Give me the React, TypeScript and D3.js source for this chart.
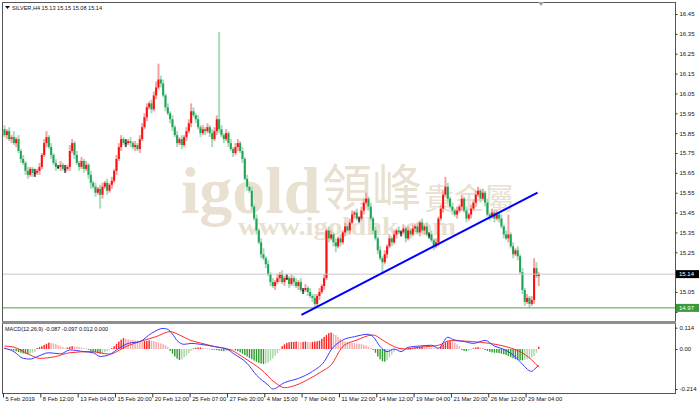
import { useEffect, useRef } from 'react';
import * as d3 from 'd3';

// H4 closes (open = previous close)
const firstOpen = 15.87;
const closes = [
  15.84, 15.86, 15.82, 15.83, 15.80, 15.82, 15.76, 15.72, 15.70, 15.66,
  15.64, 15.67, 15.65, 15.65, 15.66, 15.68, 15.74, 15.80, 15.83, 15.78,
  15.74, 15.70, 15.68, 15.68, 15.69, 15.67, 15.67, 15.68, 15.76, 15.80,
  15.74, 15.70, 15.68, 15.71, 15.67, 15.69, 15.64, 15.60, 15.58, 15.55,
  15.57, 15.54, 15.58, 15.60, 15.56, 15.59, 15.61, 15.66, 15.72, 15.78,
  15.82, 15.80, 15.80, 15.81, 15.80, 15.78, 15.79, 15.77, 15.82, 15.88,
  15.93, 15.98, 16.00, 15.97, 16.04, 16.08, 16.12, 16.10, 16.04, 15.98,
  15.95, 15.92, 15.88, 15.84, 15.80, 15.82, 15.79, 15.83, 15.86, 15.90,
  15.96, 15.94, 15.92, 15.88, 15.85, 15.87, 15.86, 15.88, 15.85, 15.82,
  15.86, 15.92, 15.87, 15.84, 15.82, 15.85, 15.80, 15.77, 15.75, 15.78,
  15.80, 15.76, 15.72, 15.62, 15.58, 15.56, 15.48, 15.42, 15.36, 15.30,
  15.24, 15.22, 15.19, 15.14, 15.10, 15.08, 15.10, 15.12, 15.14, 15.10,
  15.12, 15.12, 15.09, 15.12, 15.10, 15.08, 15.10, 15.06, 15.06, 15.07,
  15.05, 15.03, 15.02, 14.99, 15.03, 15.05, 15.08, 15.12, 15.36, 15.32,
  15.34, 15.30, 15.28, 15.32, 15.30, 15.35, 15.38, 15.36, 15.40, 15.44,
  15.45, 15.42, 15.42, 15.46, 15.50, 15.52, 15.48, 15.42, 15.36, 15.32,
  15.26, 15.22, 15.20, 15.24, 15.28, 15.32, 15.30, 15.34, 15.36, 15.35,
  15.35, 15.37, 15.32, 15.36, 15.34, 15.37, 15.38, 15.35, 15.40, 15.36,
  15.38, 15.34, 15.34, 15.31, 15.28, 15.30, 15.42, 15.47, 15.54, 15.58,
  15.52, 15.48, 15.46, 15.44, 15.46, 15.48, 15.52, 15.46, 15.42, 15.44,
  15.47, 15.50, 15.54, 15.56, 15.52, 15.55, 15.50, 15.44, 15.43, 15.45,
  15.42, 15.44, 15.42, 15.38, 15.34, 15.32, 15.34, 15.28, 15.24, 15.26,
  15.23, 15.15, 15.06, 15.00, 15.02, 14.99, 15.01, 15.17, 15.13, 15.14,
];
// wick lengths above / below the body, in cents
const wickUp = [
  2, 1, 2, 1, 3, 1, 2, 1, 2, 1, 2, 1, 1, 2, 1, 2, 1, 2, 3, 1,
  2, 1, 2, 1, 2, 1, 2, 1, 3, 2, 1, 2, 1, 2, 1, 2, 1, 2, 1, 2,
  1, 2, 2, 1, 2, 1, 2, 1, 2, 2, 2, 1, 2, 1, 2, 1, 2, 1, 2, 2,
  2, 2, 1, 2, 2, 3, 8, 2, 2, 1, 2, 1, 2, 1, 2, 1, 2, 1, 2, 2,
  4, 2, 1, 2, 1, 2, 1, 2, 1, 2, 2, 2, 44, 2, 1, 2, 1, 2, 1, 2,
  2, 1, 2, 1, 2, 1, 2, 1, 2, 1, 2, 3, 1, 2, 1, 2, 1, 2, 1, 2,
  1, 2, 1, 2, 1, 2, 1, 2, 1, 2, 1, 2, 1, 2, 1, 2, 1, 2, 1, 2,
  2, 1, 2, 1, 2, 1, 2, 1, 2, 2, 1, 2, 1, 2, 2, 3, 1, 2, 1, 2,
  1, 2, 1, 2, 1, 2, 1, 2, 1, 2, 1, 2, 1, 2, 1, 2, 1, 2, 1, 2,
  1, 2, 1, 2, 1, 2, 1, 2, 2, 5, 2, 1, 2, 1, 2, 1, 2, 1, 2, 1,
  2, 1, 2, 2, 1, 2, 1, 2, 1, 2, 1, 2, 1, 2, 1, 2, 10, 1, 2, 1,
  2, 1, 2, 1, 2, 1, 2, 5, 3, 1,
];
const wickDn = [
  1, 2, 1, 2, 1, 2, 1, 2, 1, 2, 2, 1, 2, 2, 1, 2, 1, 1, 2, 1,
  2, 1, 2, 1, 2, 1, 2, 1, 2, 1, 2, 1, 2, 1, 2, 1, 2, 3, 1, 2,
  1, 7, 2, 1, 2, 1, 2, 1, 2, 1, 2, 1, 2, 1, 2, 1, 2, 1, 2, 1,
  1, 2, 1, 2, 1, 2, 1, 2, 1, 2, 1, 2, 2, 1, 2, 1, 2, 1, 2, 1,
  2, 1, 2, 1, 2, 1, 2, 1, 2, 4, 1, 2, 2, 1, 2, 1, 2, 1, 2, 1,
  2, 1, 2, 1, 2, 1, 2, 1, 2, 1, 2, 1, 2, 1, 2, 1, 2, 1, 2, 1,
  2, 1, 2, 1, 2, 1, 2, 1, 2, 1, 2, 1, 2, 2, 1, 2, 1, 2, 1, 2,
  1, 2, 3, 1, 2, 1, 2, 1, 2, 1, 2, 1, 2, 1, 2, 1, 2, 1, 2, 1,
  2, 1, 6, 1, 2, 1, 2, 1, 2, 1, 2, 1, 2, 1, 2, 1, 2, 1, 2, 1,
  2, 1, 2, 1, 2, 1, 2, 1, 2, 1, 2, 1, 2, 1, 2, 1, 2, 1, 2, 1,
  2, 1, 2, 1, 2, 1, 2, 1, 2, 1, 2, 1, 2, 1, 2, 1, 2, 1, 2, 1,
  2, 1, 2, 2, 1, 2, 1, 2, 1, 5,
];

// MACD histogram per bar, in thousandths
const histo = [
  3, 2, -2, -5,
  -8, -12, -16, -20, -24, -26, -28, -25, -20, -15,
  5, 10, 15, 22, 28, 34, 32, 30, 26, 20, 15, 10,
  5, 8, 12, 15, 14, 12, 10, 8, 5, 3,
  -5, -10, -15, -18, -22, -25, -22, -18, -12, -6,
  5, 15, 28, 40, 50, 58, 55,
  52, 50, 48, 46, 44, 42, 40, 42, 44, 46, 45, 42, 38, 34, 30, 26, 20, 12,
  -10, -25, -40, -52, -59, -55, -45, -35, -22, -10,
  3, 6, 8, 8, 6, 5, 3, 2, -2, -4,
  -6, -8, -10, -12, -10, -8, -6, -4,
  -8, -12, -18, -25, -32, -40, -48, -55, -62, -68, -74, -78, -80, -78, -72, -62, -50, -36, -22, -8,
  15, 25, 32, 36, 38, 38, 40, 38, 36, 38, 40, 38, 36, 38, 40, 42, 45,
  55, 65, 75, 85, 88, 82, 75, 65, 55,
  45, 40, 38, 35, 33, 32, 30, 28, 26, 22, 18, 12,
  5, -5,
  -20, -40, -55, -65, -68, -60, -45, -30, -15,
  -5, 3, 6, 5, 3, -2, -3, 4, 6,
  8, 10, 12, 10, 9, 8, 6, 5, 4, 3,
  15, 25, 35, 40, 42, 38, 32, 25, 15,
  -5, -10, -12, -10, -6,
  4, 8, 10, 8, 5,
  -5, -10, -15, -18, -20, -20, -22, -25, -28,
  -32, -38, -44, -50, -55, -58, -60, -60, -58, -55, -50, -45, -38,
  -20, 12,
];

// [bar index, value] read along the MACD (blue) and signal (red) lines
const macdPts: [number, number][] = [
  [0, 0.005], [4, -0.014], [8, -0.05], [11, -0.054], [14, -0.041], [19, -0.02], [24, -0.026],
  [28, -0.005], [34, -0.014], [38, -0.02], [41, -0.04], [45, -0.03], [48, -0.005], [53, 0.03],
  [58, 0.04], [63, 0.084], [68, 0.11], [70, 0.105], [72, 0.08], [74, 0.045], [77, 0.025],
  [80, 0.03], [84, 0.025], [90, 0.013], [96, -0.005], [98, -0.023], [104, -0.077], [108, -0.14],
  [113, -0.193], [115, -0.214], [120, -0.18], [126, -0.157], [132, -0.12], [137, -0.068],
  [140, -0.005], [145, 0.048], [150, 0.066], [156, 0.079], [158, 0.066], [161, 0.013],
  [164, -0.014], [167, 0], [170, -0.014], [173, 0.009], [178, 0.016], [183, 0.02], [186, 0.004],
  [190, 0.063], [192, 0.052], [197, 0.04], [201, 0.03], [206, 0.046], [210, 0.016],
  [214, -0.002], [218, -0.032], [221, -0.068], [226, -0.12], [227, -0.11], [229, -0.087],
];
const signalPts: [number, number][] = [
  [0, 0.016], [4, 0.01], [11, -0.032], [15, -0.05], [22, -0.04], [28, -0.02], [37, -0.014],
  [45, -0.027], [52, 0.013], [58, 0.04], [65, 0.066], [71, 0.093], [75, 0.075], [80, 0.045],
  [84, 0.032], [90, 0.013], [97, -0.005], [103, -0.05], [110, -0.11], [116, -0.18],
  [120, -0.207], [125, -0.193], [131, -0.157], [136, -0.12], [140, -0.085], [145, 0.013],
  [151, 0.048], [158, 0.075], [162, 0.048], [167, 0.013], [171, 0], [178, 0.01], [186, 0.02],
  [191, 0.045], [200, 0.04], [208, 0.03], [217, 0.005], [221, -0.014], [226, -0.059],
  [229, -0.097],
];

// 15.15 and 14.95 sit under the price tags, so they keep a tick mark but no label
const priceTicks = [16.45, 16.35, 16.25, 16.15, 16.05, 15.95, 15.85, 15.75, 15.65, 15.55, 15.45, 15.35, 15.25, 15.15, 15.05, 14.95];
const hiddenTicks = [15.15, 14.95];
const macdTicks = [0.114, 0, -0.214];
const macdTickLabels = ['0.114', '0.00', '-0.214'];
const timeLabels = [
  '5 Feb 2019', '8 Feb 12:00', '13 Feb 04:00', '15 Feb 20:00', '20 Feb 12:00', '25 Feb 07:00',
  '27 Feb 20:00', '4 Mar 15:00', '7 Mar 04:00', '11 Mar 22:00', '14 Mar 12:00', '19 Mar 04:00',
  '21 Mar 20:00', '26 Mar 12:00', '29 Mar 04:00',
];
const lastPrice = 15.14;
const supportPrice = 14.97;
const trendLine: [number, number][] = [[127.3, 14.935], [228.5, 15.551]];
const header = 'SILVER,H4  15.13 15.15 15.08 15.14';
const macdTitle = 'MACD(12,26,9) -0.087 -0.097 0.012 0.000';

export default function App() {
  const svgRef = useRef<SVGSVGElement>(null);

  useEffect(() => {
    document.body.style.margin = '0';
    const svg = d3.select(svgRef.current);
    svg.selectAll('*').remove();

    const W = 700, H = 407;
    const L = 2, R = 675, T = 2, mainBot = 321, subTop = 324, subBot = 393;
    const font = "'Liberation Sans', Arial, sans-serif";
    const serif = "'Liberation Serif', 'DejaVu Serif', serif";
    const cjk = "'Noto Sans CJK TC', sans-serif";

    svg.attr('width', W).attr('height', H).attr('viewBox', `0 0 ${W} ${H}`);
    svg.append('rect').attr('width', W).attr('height', H).attr('fill', '#fff');

    const x = d3.scaleLinear().domain([0, closes.length - 1]).range([4.5, 4.5 + (closes.length - 1) * 2.333]);
    const y = d3.scaleLinear().domain([15.05, 16.45]).range([292, 14]);
    const ym = d3.scaleLinear().domain([-0.214, 0]).range([389, 349]);

    const defs = svg.append('defs');
    defs.append('clipPath').attr('id', 'clip-main')
      .append('rect').attr('x', L).attr('y', T).attr('width', R - L).attr('height', mainBot - T);
    defs.append('clipPath').attr('id', 'clip-sub')
      .append('rect').attr('x', L).attr('y', subTop).attr('width', R - L).attr('height', subBot - subTop);

    // watermark, one text block
    const wm = svg.append('text').attr('fill', '#e8e1d1');
    wm.append('tspan').attr('x', 181).attr('y', 213)
      .attr('font-family', serif).attr('font-weight', 'bold').attr('font-size', 66).text('igold');
    wm.append('tspan').attr('x', 322).attr('y', 206)
      .attr('font-family', cjk).attr('font-size', 50).text('領峰');
    wm.append('tspan').attr('x', 424).attr('y', 209)
      .attr('font-family', cjk).attr('font-size', 30).text('貴金屬');
    wm.append('tspan').attr('x', 238).attr('y', 235)
      .attr('font-family', serif).attr('font-weight', 'bold').attr('font-size', 26)
      .attr('textLength', 218).attr('lengthAdjust', 'spacingAndGlyphs')
      .text('www.igoldhk.com');

    // candles
    const opens = closes.map((c, i) => (i === 0 ? firstOpen : closes[i - 1]));
    const g = svg.append('g').attr('clip-path', 'url(#clip-main)');
    closes.forEach((c, i) => {
      const o = opens[i];
      const top = Math.max(o, c), bot = Math.min(o, c);
      const hi = top + wickUp[i] / 100, lo = bot - wickDn[i] / 100;
      const up = c > o, flat = Math.abs(c - o) < 1e-9;
      const wickCol = flat ? '#555' : up ? '#f5a3a3' : '#a8dbbd';
      const bodyCol = flat ? '#222' : up ? '#ff0d0d' : '#1fa456';
      g.append('rect')
        .attr('x', x(i) - 1).attr('y', y(hi))
        .attr('width', 2).attr('height', y(lo) - y(hi))
        .attr('fill', wickCol);
      g.append('rect')
        .attr('x', x(i) - 1).attr('y', y(top))
        .attr('width', 2).attr('height', Math.max(1, y(bot) - y(top)))
        .attr('fill', bodyCol);
    });

    // price lines
    g.append('line').attr('x1', L).attr('x2', R).attr('y1', y(lastPrice)).attr('y2', y(lastPrice))
      .attr('stroke', '#c8c8c8').attr('stroke-width', 1);
    g.append('line').attr('x1', L).attr('x2', R).attr('y1', y(supportPrice)).attr('y2', y(supportPrice))
      .attr('stroke', '#4ea24e').attr('stroke-width', 1);

    // trend line
    g.append('line')
      .attr('x1', x(trendLine[0][0])).attr('y1', y(trendLine[0][1]))
      .attr('x2', x(trendLine[1][0])).attr('y2', y(trendLine[1][1]))
      .attr('stroke', '#0000ff').attr('stroke-width', 2);

    // MACD histogram
    const sg = svg.append('g').attr('clip-path', 'url(#clip-sub)');
    histo.forEach((h, i) => {
      const v = h / 1000;
      const prev = i > 0 ? histo[i - 1] : h;
      let col: string;
      if (h >= 0) col = h >= prev ? '#ff1f1f' : '#f7a7a7';
      else col = h <= prev ? '#2f9a2f' : '#a6d5a6';
      sg.append('rect')
        .attr('x', x(i) - 0.7).attr('width', 1.4)
        .attr('y', Math.min(ym(0), ym(v)))
        .attr('height', Math.max(0.8, Math.abs(ym(v) - ym(0))))
        .attr('fill', col);
    });
    const line = d3.line<[number, number]>().x(d => x(d[0])).y(d => ym(d[1])).curve(d3.curveMonotoneX);
    sg.append('path').datum(signalPts).attr('d', line).attr('fill', 'none').attr('stroke', '#ff2a2a').attr('stroke-width', 1);
    sg.append('path').datum(macdPts).attr('d', line).attr('fill', 'none').attr('stroke', '#3a3aff').attr('stroke-width', 1);

    // frames
    const frame = svg.append('g').attr('fill', 'none').attr('stroke', '#555').attr('stroke-width', 1);
    frame.append('line').attr('x1', L + 0.5).attr('x2', L + 0.5).attr('y1', T).attr('y2', subBot);
    frame.append('line').attr('x1', L).attr('x2', R).attr('y1', T + 0.5).attr('y2', T + 0.5);
    frame.append('line').attr('x1', R + 0.5).attr('x2', R + 0.5).attr('y1', T).attr('y2', subBot + 0.5);
    frame.append('line').attr('x1', L).attr('x2', R + 1).attr('y1', subBot + 0.5).attr('y2', subBot + 0.5);
    svg.append('rect').attr('x', L).attr('y', mainBot).attr('width', R - L + 1).attr('height', 3).attr('fill', '#8e8e8e');

    // chart shift marker
    svg.append('path').attr('d', 'M538,2 L544,2 L541,6 Z').attr('fill', '#a0a0a0');

    // right price axis
    const ay = svg.append('g').attr('transform', `translate(${R + 0.5},0)`)
      .call(d3.axisRight(y).tickValues(priceTicks).tickSize(2)
        .tickFormat(d => (hiddenTicks.includes(+d) ? '' : d3.format('.2f')(+d))));
    ay.select('.domain').remove();
    ay.selectAll('line').attr('stroke', '#333');
    ay.selectAll('text').attr('x', 4).attr('font-size', 6).attr('font-family', font).attr('fill', '#111');

    const am = svg.append('g').attr('transform', `translate(${R + 0.5},0)`)
      .call(d3.axisRight(ym).tickValues(macdTicks).tickSize(2).tickFormat((_, i) => macdTickLabels[i]));
    am.select('.domain').remove();
    am.selectAll('line').attr('stroke', '#333');
    am.selectAll('text').attr('x', 4).attr('font-size', 6).attr('font-family', font).attr('fill', '#111');

    // price tags
    const tag = (p: number, bg: string) => {
      svg.append('rect').attr('x', R + 1).attr('y', y(p) - 4).attr('width', 23).attr('height', 8).attr('fill', bg);
      svg.append('text').attr('x', R + 4).attr('y', y(p) + 2.2)
        .attr('font-size', 6).attr('font-family', font).attr('fill', '#fff').text(p.toFixed(2));
    };
    tag(lastPrice, '#000');
    tag(supportPrice, '#3a9a3a');

    // time axis
    const ax = svg.append('g').attr('transform', `translate(-1.5,${subBot + 0.5})`)
      .call(d3.axisBottom(x).tickValues(d3.range(0, 225, 16)).tickSize(4).tickFormat((_, i) => timeLabels[i]));
    ax.select('.domain').remove();
    ax.selectAll('line').attr('stroke', '#333');
    ax.selectAll('text').attr('text-anchor', 'start').attr('x', 2).attr('y', 3)
      .attr('font-size', 5.8).attr('font-family', font).attr('fill', '#111');

    // header and indicator title
    svg.append('path').attr('d', 'M5,6 L10,6 L7.5,9 Z').attr('fill', '#111');
    svg.append('text').attr('x', 12).attr('y', 10).attr('font-size', 6).attr('font-family', font)
      .attr('fill', '#111').attr('textLength', 90).attr('lengthAdjust', 'spacingAndGlyphs').text(header);
    svg.append('text').attr('x', 5).attr('y', 331).attr('font-size', 6).attr('font-family', font)
      .attr('fill', '#111').attr('textLength', 103).attr('lengthAdjust', 'spacingAndGlyphs').text(macdTitle);
  }, []);

  return <svg ref={svgRef} style={{ display: 'block' }} role="img" aria-label="SILVER H4 candlestick chart with MACD" />;
}
